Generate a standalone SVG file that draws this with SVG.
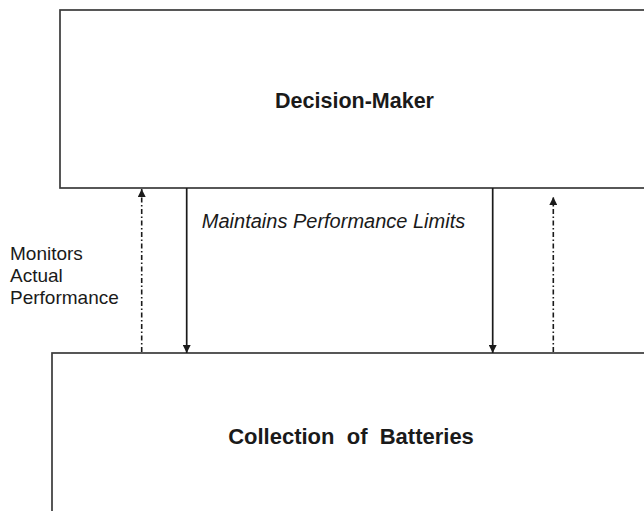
<svg xmlns="http://www.w3.org/2000/svg" width="644" height="511" viewBox="0 0 644 511">
  <style>
    .box { fill: #ffffff; stroke: #3a3a3a; stroke-width: 1.7; }
    .title { font-family: "Liberation Sans", Arial, sans-serif; font-weight: bold; fill: #1a1a1a; text-anchor: middle; }
    .label { font-family: "Liberation Sans", Arial, sans-serif; font-size: 19px; fill: #1a1a1a; }
    .italic { font-style: italic; font-size: 20px; text-anchor: middle; }
    .solid { stroke: #1a1a1a; stroke-width: 1.7; fill: none; }
    .dashdot { stroke: #1a1a1a; stroke-width: 1.6; fill: none; stroke-dasharray: 5 2.5 1.5 2.5; }
  </style>
  <defs>
    <marker id="head" viewBox="0 0 10 10" refX="10" refY="5" markerWidth="9" markerHeight="8" markerUnits="userSpaceOnUse" orient="auto">
      <path d="M0,0 L10,5 L0,10 z" fill="#1a1a1a"/>
    </marker>
  </defs>
  <rect width="644" height="511" fill="#ffffff"/>

  <g id="decision-maker">
    <rect class="box" x="60" y="10" width="600" height="178"/>
    <text class="title" x="354.5" y="107.5" font-size="21.5">Decision-Maker</text>
  </g>

  <g id="collection-of-batteries">
    <rect class="box" x="52" y="353" width="610" height="180"/>
    <text class="title" x="351" y="443.5" font-size="22" xml:space="preserve">Collection  of  Batteries</text>
  </g>

  <g id="connectors">
    <line class="dashdot" x1="141.7" y1="352" x2="141.7" y2="189" marker-end="url(#head)"/>
    <line class="solid" x1="186.7" y1="188" x2="186.7" y2="353" marker-end="url(#head)"/>
    <line class="solid" x1="492.7" y1="188" x2="492.7" y2="353" marker-end="url(#head)"/>
    <line class="dashdot" x1="553.3" y1="352" x2="553.3" y2="197" marker-end="url(#head)"/>
  </g>

  <g id="labels">
    <text class="label italic" x="333.5" y="228">Maintains Performance Limits</text>
    <text class="label" x="10" y="260">Monitors</text>
    <text class="label" x="10" y="282">Actual</text>
    <text class="label" x="10" y="304">Performance</text>
  </g>
</svg>
